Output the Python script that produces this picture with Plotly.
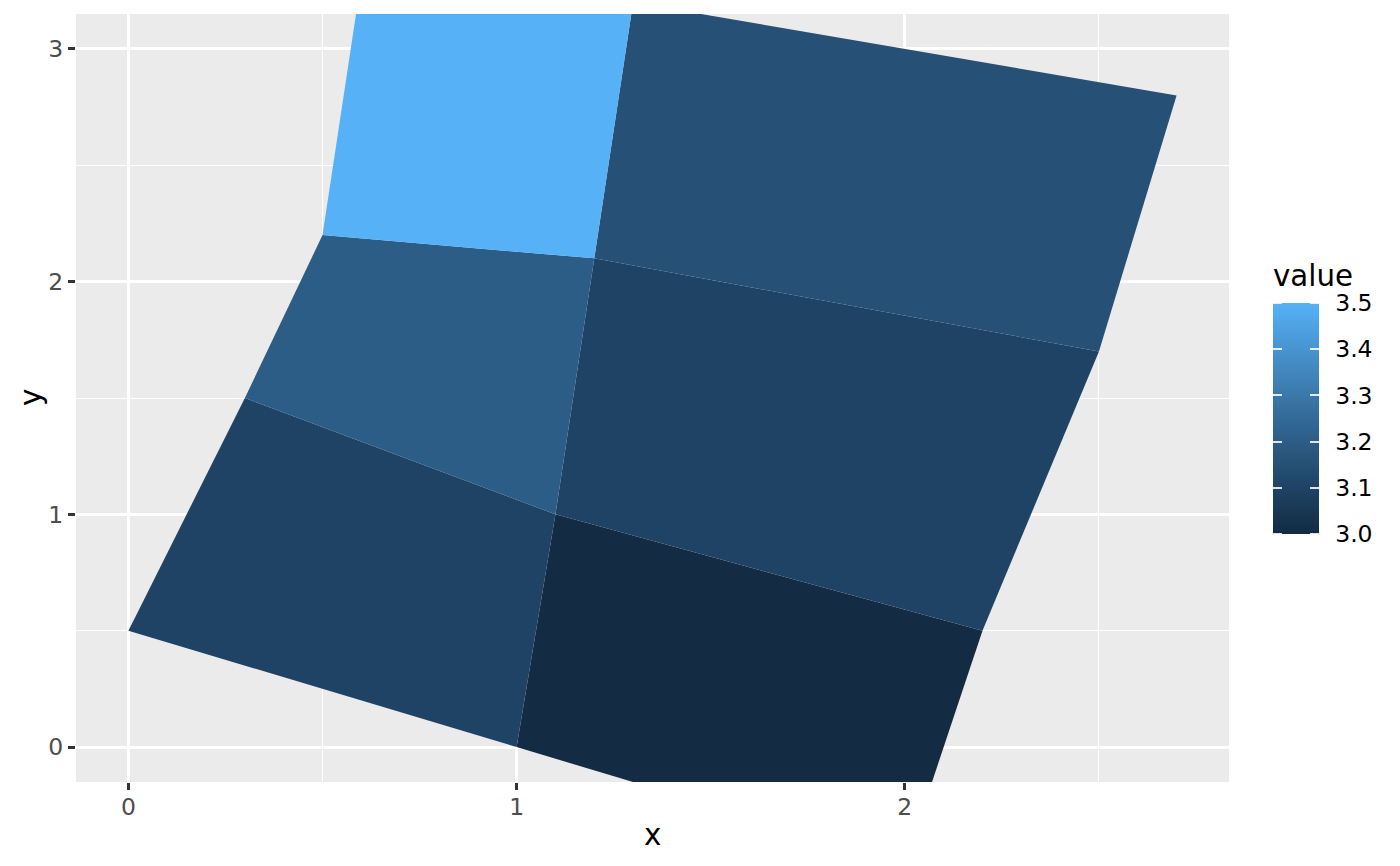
import plotly.graph_objects as go

# ---- data (ggplot2 geom_polygon example) ----
poly_ids = ["1.1", "2.1", "1.2", "2.2", "1.3", "2.3"]
poly_values = [3.0, 3.1, 3.1, 3.2, 3.15, 3.5]
poly_x = [
    [2.0, 1.0, 1.1, 2.2],
    [1.0, 0.0, 0.3, 1.1],
    [2.2, 1.1, 1.2, 2.5],
    [1.1, 0.3, 0.5, 1.2],
    [2.5, 1.2, 1.3, 2.7],
    [1.2, 0.5, 0.6, 1.3],
]
poly_y = [
    [-0.5, 0.0, 1.0, 0.5],
    [0.0, 0.5, 1.5, 1.0],
    [0.5, 1.0, 2.1, 1.7],
    [1.0, 1.5, 2.2, 2.1],
    [1.7, 2.1, 3.2, 2.8],
    [2.1, 2.2, 3.3, 3.2],
]
x_ticks = [0, 1, 2]
y_ticks = [0, 1, 2, 3]
x_minor = [0.5, 1.5, 2.5]
y_minor = [0.5, 1.5, 2.5]
cb_ticks = [3.0, 3.1, 3.2, 3.3, 3.4, 3.5]
cb_ticktext = ["3.0", "3.1", "3.2", "3.3", "3.4", "3.5"]
vmin, vmax = 3.0, 3.5
low_col, high_col = "#132B43", "#56B1F7"


# ---- Lab colour interpolation (like scales::seq_gradient_pal) ----
def hex2rgb(h):
    h = h.lstrip("#")
    return [int(h[i:i + 2], 16) / 255 for i in (0, 2, 4)]


def rgb2lab(rgb):
    lin = [c / 12.92 if c <= 0.04045 else ((c + 0.055) / 1.055) ** 2.4 for c in rgb]
    r, g, b = lin
    X = (0.4124 * r + 0.3576 * g + 0.1805 * b) / 0.95047
    Y = (0.2126 * r + 0.7152 * g + 0.0722 * b) / 1.0
    Z = (0.0193 * r + 0.1192 * g + 0.9505 * b) / 1.08883
    f = lambda t: t ** (1 / 3) if t > 0.008856 else 7.787 * t + 16 / 116
    fx, fy, fz = f(X), f(Y), f(Z)
    return [116 * fy - 16, 500 * (fx - fy), 200 * (fy - fz)]


def lab2hex(lab):
    L, a, b = lab
    fy = (L + 16) / 116
    fx = fy + a / 500
    fz = fy - b / 200
    finv = lambda t: t ** 3 if t ** 3 > 0.008856 else (t - 16 / 116) / 7.787
    X, Y, Z = finv(fx) * 0.95047, finv(fy), finv(fz) * 1.08883
    r = 3.2406 * X - 1.5372 * Y - 0.4986 * Z
    g = -0.9689 * X + 1.8758 * Y + 0.0415 * Z
    bb = 0.0557 * X - 0.2040 * Y + 1.0570 * Z
    out = []
    for c in (r, g, bb):
        c = 12.92 * c if c <= 0.0031308 else 1.055 * c ** (1 / 2.4) - 0.055
        out.append(max(0, min(255, round(c * 255))))
    return "#%02X%02X%02X" % tuple(out)


lab_lo, lab_hi = rgb2lab(hex2rgb(low_col)), rgb2lab(hex2rgb(high_col))


def col_at(t):
    return lab2hex([lo + (hi - lo) * t for lo, hi in zip(lab_lo, lab_hi)])


colorscale = [[i / 20, col_at(i / 20)] for i in range(21)]

# ---- figure ----
fig = go.Figure()
for pid, v, xs, ys in zip(poly_ids, poly_values, poly_x, poly_y):
    fig.add_trace(go.Scatter(
        x=xs + [xs[0]], y=ys + [ys[0]], mode="lines", fill="toself",
        fillcolor=col_at((v - vmin) / (vmax - vmin)),
        line=dict(width=0, color="rgba(0,0,0,0)"),
        name=pid, showlegend=False, hoverinfo="skip"))

# page geometry in pixels (the page body has an 8px default margin)
OFF = 8
W, H = 1400 - OFF, 866 - OFF
PL, PR, PT, PB = 76, 1229, 14, 782     # panel edges in window pixels
pw, ph = PR - PL, PB - PT


def px2paper_x(p):
    return (p - PL) / pw


def px2paper_y(p):
    return (PB - p) / ph


cb_left, cb_right, cb_top, cb_bot = 1273, 1319, 303, 534

fig.add_trace(go.Scatter(
    x=[None, None], y=[None, None], mode="markers", showlegend=False,
    hoverinfo="skip",
    marker=dict(color=[vmin, vmax], cmin=vmin, cmax=vmax, colorscale=colorscale,
                showscale=True, size=1,
                colorbar=dict(
                    x=px2paper_x(cb_left), xanchor="left", xpad=0,
                    y=px2paper_y((cb_top + cb_bot) / 2), yanchor="middle", ypad=0,
                    len=cb_bot - cb_top, lenmode="pixels",
                    thickness=cb_right - cb_left, thicknessmode="pixels",
                    outlinewidth=0,
                    tickmode="array", tickvals=cb_ticks, ticktext=cb_ticktext,
                    ticks="outside", ticklen=12, tickcolor="rgba(0,0,0,0)",
                    tickfont=dict(family="DejaVu Sans", size=23.5, color="black"),
                ))))

grid_major = 2.8
grid_minor = 1.4
axis_common = dict(
    showgrid=True, gridcolor="white", gridwidth=grid_major,
    zeroline=False, showline=False,
    ticks="outside", ticklen=7, tickwidth=2.8, tickcolor="#333333",
    tickfont=dict(family="DejaVu Sans", size=23.5, color="#4D4D4D"),
    tickmode="array",
)
fig.update_xaxes(range=[-0.135, 2.835], tickvals=x_ticks,
                 ticktext=[str(t) for t in x_ticks], ticklabelstandoff=-3,
                 minor=dict(tickmode="array", tickvals=x_minor, showgrid=True,
                            gridcolor="white", gridwidth=grid_minor, ticks=""),
                 **axis_common)
fig.update_yaxes(range=[-0.15, 3.15], tickvals=y_ticks,
                 ticktext=[str(t) for t in y_ticks],
                 minor=dict(tickmode="array", tickvals=y_minor, showgrid=True,
                            gridcolor="white", gridwidth=grid_minor, ticks=""),
                 **axis_common)

annotations = [
    dict(text="x", x=0.5, y=px2paper_y(835), xref="paper", yref="paper",
         xanchor="center", yanchor="middle", showarrow=False,
         font=dict(family="DejaVu Sans", size=29.3, color="black")),
    dict(text="y", x=px2paper_x(31), y=0.5, xref="paper", yref="paper",
         xanchor="center", yanchor="middle", showarrow=False, textangle=-90,
         font=dict(family="DejaVu Sans", size=29.3, color="black")),
    dict(text="value", x=px2paper_x(cb_left - 2), y=px2paper_y(276), xref="paper",
         yref="paper", xanchor="left", yanchor="middle", showarrow=False,
         font=dict(family="DejaVu Sans", size=29.3, color="black")),
]
# white colorbar ticks on both inner edges (ggplot style)
tick_len = 9
for v in cb_ticks:
    py = cb_bot - (v - vmin) / (vmax - vmin) * (cb_bot - cb_top)
    for x0 in (cb_left, cb_right - tick_len):
        annotations.append(dict(
            text=" ", x=px2paper_x(x0), y=px2paper_y(py), xref="paper", yref="paper",
            xanchor="left", yanchor="middle", showarrow=False, width=tick_len,
            height=1.5, borderpad=0, borderwidth=0, bgcolor="rgba(255,255,255,0.85)",
            font=dict(size=1)))

fig.update_layout(
    width=W, height=H, autosize=False,
    margin=dict(l=PL - OFF, r=W + OFF - PR, t=PT - OFF, b=H + OFF - PB, pad=0),
    paper_bgcolor="white", plot_bgcolor="#EBEBEB",
    font=dict(family="DejaVu Sans"),
    annotations=annotations,
)

fig.write_html("out.html")
